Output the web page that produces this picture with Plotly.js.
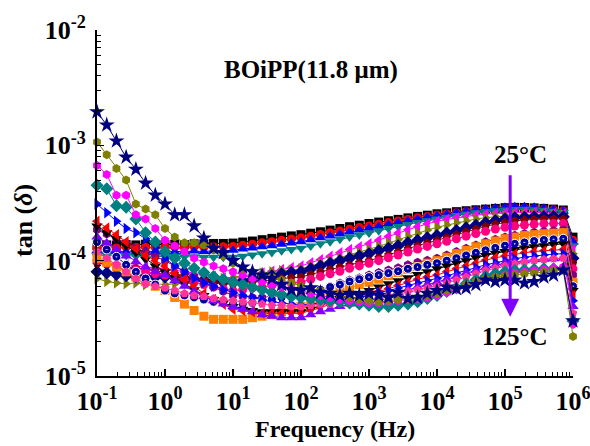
<!DOCTYPE html>
<html>
<head>
<meta charset="utf-8">
<script src="https://cdn.plot.ly/plotly-3.0.1.min.js"></script>
<style>html,body{margin:0;padding:0;background:#fff;}#chart{width:590px;height:446px;}</style>
</head>
<body>
<div id="chart"></div>
<script>
// Frequency (Hz), 7 points per decade
const freqHz = [0.1,0.139,0.193,0.268,0.373,0.518,0.72,
  1,1.39,1.93,2.68,3.73,5.18,7.2,
  10,13.9,19.3,26.8,37.3,51.8,72,
  100,139,193,268,373,518,720,
  1e3,1390,1930,2680,3730,5180,7200,
  1e4,13900,19300,26800,37300,51800,72000,
  1e5,139000,193000,268000,373000,518000,720000,
  1e6];

// tan(delta) in units of 1e-4, one array per temperature
const t25 = [1.35,1.37,1.36,1.38,1.37,1.39,1.38, 1.38,1.39,1.38,1.40,1.40,1.41,1.41, 1.42,1.45,1.48,1.52,1.56,1.60,1.64, 1.68,1.73,1.78,1.84,1.90,1.97,2.03, 2.10,2.16,2.22,2.28,2.35,2.42,2.48, 2.55,2.60,2.66,2.71,2.76,2.80,2.84, 2.88,2.90,2.89,2.87,2.84,2.80,2.75, 1.60];
const t30 = [1.28,1.30,1.29,1.31,1.30,1.31,1.30, 1.30,1.31,1.30,1.32,1.31,1.32,1.32, 1.33,1.36,1.39,1.43,1.46,1.50,1.54, 1.58,1.63,1.69,1.75,1.81,1.87,1.94, 2.00,2.07,2.14,2.21,2.28,2.35,2.41, 2.48,2.54,2.60,2.66,2.71,2.75,2.79, 2.83,2.86,2.86,2.84,2.80,2.76,2.70, 1.50];
const t35 = [1.22,1.20,1.21,1.19,1.20,1.21,1.20, 1.20,1.19,1.20,1.21,1.20,1.22,1.22, 1.23,1.26,1.29,1.32,1.35,1.39,1.42, 1.46,1.52,1.58,1.64,1.70,1.77,1.84, 1.91,1.98,2.06,2.14,2.22,2.30,2.38, 2.45,2.53,2.61,2.68,2.75,2.81,2.86, 2.90,2.93,2.93,2.90,2.85,2.78,2.70, 1.45];
const t40 = [1.10,1.12,1.10,1.11,1.09,1.10,1.09, 1.08,1.09,1.08,1.08,1.07,1.07,1.07, 1.07,1.09,1.12,1.15,1.18,1.22,1.25, 1.28,1.34,1.40,1.46,1.53,1.60,1.67, 1.74,1.82,1.90,1.98,2.06,2.14,2.22, 2.30,2.38,2.46,2.53,2.60,2.66,2.71, 2.75,2.78,2.79,2.77,2.73,2.68,2.62, 1.35];
const t45 = [0.95,0.94,0.93,0.92,0.90,0.88,0.87, 0.85,0.83,0.80,0.78,0.75,0.73,0.71, 0.70,0.72,0.75,0.78,0.81,0.84,0.87, 0.90,0.96,1.02,1.09,1.17,1.25,1.32, 1.40,1.50,1.62,1.74,1.85,1.97,2.09, 2.20,2.28,2.35,2.42,2.48,2.53,2.57, 2.60,2.62,2.63,2.62,2.60,2.58,2.55, 1.25];
const t50 = [0.70,0.66,0.64,0.63,0.64,0.62,0.63, 0.62,0.63,0.64,0.66,0.67,0.69,0.70, 0.72,0.74,0.76,0.78,0.80,0.82,0.83, 0.85,0.90,0.95,1.00,1.06,1.12,1.18, 1.25,1.33,1.42,1.52,1.62,1.73,1.84, 1.95,2.04,2.13,2.22,2.30,2.36,2.41, 2.45,2.48,2.50,2.51,2.51,2.50,2.50, 1.15];
const t55 = [0.80,0.78,0.76,0.74,0.72,0.73,0.72, 0.72,0.71,0.70,0.69,0.68,0.66,0.65, 0.65,0.67,0.69,0.72,0.74,0.77,0.79, 0.80,0.85,0.90,0.95,1.00,1.05,1.10, 1.15,1.22,1.28,1.35,1.43,1.50,1.58, 1.65,1.74,1.83,1.93,2.03,2.13,2.22, 2.30,2.35,2.38,2.40,2.41,2.41,2.40, 1.05];
const t60 = [0.95,0.93,0.91,0.88,0.86,0.84,0.82, 0.80,0.77,0.74,0.71,0.68,0.66,0.64, 0.62,0.63,0.65,0.66,0.68,0.70,0.71, 0.72,0.76,0.80,0.84,0.88,0.92,0.96, 1.00,1.06,1.12,1.19,1.27,1.35,1.42, 1.50,1.59,1.68,1.78,1.88,1.98,2.07, 2.15,2.21,2.25,2.28,2.30,2.30,2.30, 0.95];
const t65 = [1.00,0.95,0.91,0.87,0.83,0.80,0.77, 0.75,0.71,0.68,0.65,0.62,0.59,0.57, 0.55,0.56,0.58,0.59,0.61,0.62,0.64, 0.65,0.69,0.73,0.77,0.81,0.86,0.90, 0.95,1.00,1.06,1.12,1.19,1.26,1.33, 1.40,1.47,1.55,1.63,1.72,1.80,1.88, 1.95,2.00,2.04,2.07,2.09,2.10,2.10, 0.85];
const t70 = [1.85,1.70,1.55,1.42,1.30,1.18,1.08, 1.00,0.90,0.81,0.73,0.65,0.59,0.54, 0.50,0.49,0.48,0.48,0.49,0.49,0.50, 0.50,0.53,0.56,0.60,0.64,0.68,0.71, 0.75,0.79,0.83,0.87,0.92,0.97,1.01, 1.05,1.12,1.20,1.28,1.37,1.46,1.53, 1.60,1.66,1.72,1.76,1.80,1.83,1.85, 0.75];
const t75 = [1.05,0.97,0.88,0.80,0.72,0.66,0.60, 0.55,0.48,0.42,0.37,0.33,0.31,0.31, 0.31,0.31,0.32,0.33,0.34,0.36,0.38, 0.40,0.43,0.47,0.51,0.55,0.58,0.62, 0.65,0.69,0.74,0.79,0.84,0.89,0.95, 1.00,1.07,1.15,1.23,1.32,1.40,1.48, 1.55,1.60,1.65,1.68,1.71,1.73,1.75, 0.65];
const t80 = [1.45,1.25,1.08,0.92,0.80,0.70,0.62, 0.55,0.52,0.50,0.48,0.46,0.44,0.43, 0.42,0.42,0.43,0.44,0.46,0.48,0.49, 0.50,0.53,0.56,0.59,0.62,0.66,0.69, 0.72,0.75,0.78,0.81,0.85,0.88,0.92, 0.95,1.00,1.05,1.11,1.17,1.23,1.29, 1.35,1.40,1.44,1.48,1.51,1.53,1.55, 0.60];
const t85 = [2.00,1.75,1.55,1.35,1.18,1.03,0.90, 0.80,0.71,0.63,0.56,0.50,0.46,0.43, 0.40,0.38,0.37,0.36,0.36,0.36,0.36, 0.36,0.38,0.41,0.44,0.47,0.50,0.52, 0.55,0.59,0.63,0.67,0.71,0.76,0.80, 0.85,0.90,0.95,1.00,1.06,1.11,1.16, 1.20,1.25,1.29,1.32,1.35,1.38,1.40, 0.55];
const t90 = [2.20,1.92,1.68,1.46,1.27,1.11,1.00, 0.90,0.78,0.68,0.60,0.52,0.46,0.42, 0.38,0.37,0.36,0.35,0.35,0.35,0.35, 0.35,0.37,0.39,0.42,0.44,0.47,0.48, 0.50,0.54,0.57,0.61,0.65,0.69,0.72, 0.75,0.80,0.85,0.90,0.95,1.01,1.06, 1.10,1.14,1.17,1.20,1.22,1.24,1.25, 0.50];
const t95 = [3.10,2.60,2.20,1.90,1.75,1.55,1.30, 1.05,0.90,0.80,0.70,0.64,0.60,0.56, 0.53,0.50,0.48,0.46,0.44,0.43,0.42, 0.41,0.42,0.43,0.44,0.46,0.47,0.48, 0.50,0.53,0.55,0.58,0.61,0.64,0.67, 0.70,0.74,0.78,0.83,0.87,0.92,0.96, 1.00,1.04,1.07,1.10,1.12,1.14,1.15, 0.45];
const t100 = [1.60,1.42,1.25,1.10,0.98,0.88,0.80, 0.75,0.67,0.60,0.54,0.49,0.45,0.42, 0.40,0.38,0.36,0.34,0.33,0.32,0.32, 0.32,0.34,0.36,0.38,0.40,0.42,0.43, 0.45,0.48,0.50,0.53,0.56,0.59,0.62, 0.65,0.69,0.73,0.78,0.82,0.87,0.91, 0.95,0.98,1.00,1.02,1.03,1.04,1.05, 0.40];
const t105 = [1.20,1.05,0.92,0.80,0.70,0.63,0.60, 0.58,0.55,0.52,0.50,0.49,0.47,0.46, 0.45,0.44,0.43,0.42,0.41,0.41,0.40, 0.40,0.41,0.42,0.42,0.43,0.44,0.44, 0.45,0.47,0.49,0.51,0.54,0.56,0.58, 0.60,0.64,0.68,0.72,0.77,0.82,0.86, 0.90,0.94,0.97,1.00,1.02,1.04,1.05, 0.35];
const t110 = [4.50,4.20,3.00,2.90,2.30,1.75,1.45, 1.20,1.05,0.95,0.86,0.79,0.73,0.69, 0.65,0.62,0.59,0.56,0.53,0.51,0.49, 0.48,0.47,0.46,0.45,0.44,0.43,0.42, 0.41,0.40,0.40,0.41,0.42,0.44,0.47, 0.50,0.54,0.58,0.63,0.68,0.73,0.77, 0.80,0.82,0.83,0.84,0.85,0.85,0.85, 0.30];
const t115 = [6.70,5.60,3.70,3.70,2.50,2.30,1.90, 1.50,1.35,1.20,1.05,0.97,0.90,0.85, 0.80,0.75,0.70,0.66,0.62,0.59,0.57, 0.55,0.52,0.50,0.48,0.46,0.45,0.44, 0.43,0.43,0.44,0.45,0.46,0.47,0.48, 0.50,0.53,0.57,0.61,0.65,0.69,0.72, 0.75,0.78,0.80,0.82,0.84,0.86,0.88, 0.28];
const t120 = [10.7,8.30,6.30,5.00,3.10,2.80,2.50, 1.90,1.60,1.43,1.43,1.37,1.24,1.10, 0.95,0.85,0.80,0.75,0.72,0.68,0.64, 0.60,0.57,0.55,0.52,0.50,0.48,0.46, 0.45,0.44,0.45,0.46,0.47,0.48,0.50, 0.52,0.55,0.58,0.62,0.66,0.70,0.72, 0.74,0.76,0.77,0.78,0.80,0.82,0.83, 0.22];
const t125 = [19.5,15.0,10.9,7.90,6.20,4.70,3.70, 3.10,2.50,2.50,2.00,1.57,1.28,1.17, 1.00,0.88,0.80,0.75,0.70,0.62,0.56, 0.55,0.58,0.53,0.52,0.50,0.52,0.50, 0.52,0.50,0.48,0.53,0.47,0.48,0.52, 0.55,0.59,0.57,0.58,0.62,0.68,0.66, 0.68,0.68,0.64,0.66,0.72,0.75,0.83, 0.30];

const temps = [25,30,35,40,45,50,55,60,65,70,75,80,85,90,95,100,105,110,115,120,125];
const seriesVals = [t25,t30,t35,t40,t45,t50,t55,t60,t65,t70,t75,t80,t85,t90,t95,t100,t105,t110,t115,t120,t125];
const colors = ['#000000','#ff0000','#0000ff','#008080','#ff00ff','#808000','#000080','#800000','#ff0080','#800080','#ff8000','#0000a0','#000000','#ff0000','#0000ff','#8000ff','#ff3399','#008080','#ff00ff','#808000','#000080'];
const symbols = ['square','circle','triangle-up','triangle-down','triangle-left','triangle-right','diamond','pentagon','circle','hexagon','square','circle-dot','triangle-down','triangle-left','triangle-right','triangle-up','pentagon','diamond','hexagon','hexagon','star'];

const xTickVals = [0.1,1,10,100,1e3,1e4,1e5,1e6];
const xTickText = ['10<sup>-1</sup>','10<sup>0</sup>','10<sup>1</sup>','10<sup>2</sup>','10<sup>3</sup>','10<sup>4</sup>','10<sup>5</sup>','10<sup>6</sup>'];
const yTickVals = [1e-5,1e-4,1e-3,1e-2];
const yTickText = ['10<sup>-5</sup>','10<sup>-4</sup>','10<sup>-3</sup>','10<sup>-2</sup>'];

function markerSize(s) {
  if (s === 'star') return 12;
  if (s.indexOf('triangle') === 0) return 10;
  if (s === 'diamond') return 10;
  return 9;
}

const traces = seriesVals.map((vals, k) => ({
  type: 'scatter',
  mode: 'lines+markers',
  name: temps[k] + '°C',
  x: freqHz,
  y: vals.map(v => v * 1e-4),
  line: {color: colors[k], width: 1},
  marker: {
    symbol: symbols[k],
    color: colors[k],
    size: markerSize(symbols[k]),
    line: {width: symbols[k] === 'circle-dot' ? 1 : 0, color: '#ffffff'}
  },
  cliponaxis: false,
  hoverinfo: 'skip'
}));

const fam = 'Liberation Serif';
const black = '#000';

const layout = {
  width: 590, height: 446,
  margin: {l: 97, r: 17, t: 30, b: 70, pad: 0},
  paper_bgcolor: '#fff', plot_bgcolor: '#fff',
  showlegend: false,
  font: {family: fam, color: black},
  xaxis: {
    type: 'log', range: [-1, 6],
    tickvals: xTickVals, ticktext: xTickText,
    tickfont: {family: fam, size: 26, weight: 'bold', color: black},
    ticks: 'inside', ticklen: 7, tickwidth: 1.5, tickcolor: black,
    ticklabelstandoff: 1, ticklabeloverflow: 'allow',
    showline: true, linewidth: 2, linecolor: black, mirror: false,
    showgrid: false, zeroline: false, automargin: false,
    minor: {ticks: 'inside', ticklen: 4, tickwidth: 1, tickcolor: black, dtick: 'D1', showgrid: false}
  },
  yaxis: {
    type: 'log', range: [-5, -2],
    tickvals: yTickVals, ticktext: yTickText,
    tickfont: {family: fam, size: 26, weight: 'bold', color: black},
    ticks: 'inside', ticklen: 7, tickwidth: 1.5, tickcolor: black,
    ticklabelstandoff: 4, ticklabeloverflow: 'allow',
    showline: true, linewidth: 2, linecolor: black, mirror: false,
    showgrid: false, zeroline: false, automargin: false,
    minor: {ticks: 'inside', ticklen: 4, tickwidth: 1, tickcolor: black, dtick: 'D1', showgrid: false}
  },
  xaxis2: {
    overlaying: 'x', side: 'top', anchor: 'y', range: [0, 10], dtick: 1,
    ticks: 'inside', ticklen: 5, tickwidth: 1.5, tickcolor: black,
    showline: true, linewidth: 2, linecolor: black,
    showticklabels: false, showgrid: false, zeroline: false, fixedrange: true
  },
  yaxis2: {
    overlaying: 'y', side: 'right', anchor: 'x', range: [0, 10], dtick: 1,
    ticks: 'inside', ticklen: 5, tickwidth: 1.5, tickcolor: black,
    showline: true, linewidth: 2, linecolor: black,
    showticklabels: false, showgrid: false, zeroline: false, fixedrange: true
  },
  annotations: [
    {xref: 'paper', yref: 'paper', x: 0.5, y: -0.152, text: 'Frequency (Hz)', showarrow: false,
     font: {family: fam, size: 24, weight: 'bold', color: black}, xanchor: 'center', yanchor: 'middle'},
    {xref: 'paper', yref: 'paper', x: -0.154, y: 0.45, text: 'tan (<i>δ</i>)', textangle: -90, showarrow: false,
     font: {family: fam, size: 26, weight: 'bold', color: black}, xanchor: 'center', yanchor: 'middle'},
    {xref: 'paper', yref: 'paper', x: 0.45, y: 0.884, text: 'BOiPP(11.8 μm)', showarrow: false,
     font: {family: fam, size: 25, weight: 'bold', color: black}, xanchor: 'center', yanchor: 'middle'},
    {xref: 'paper', yref: 'paper', x: 0.889, y: 0.639, text: '25°C', showarrow: false,
     font: {family: fam, size: 25, weight: 'bold', color: black}, xanchor: 'center', yanchor: 'middle'},
    {xref: 'paper', yref: 'paper', x: 0.878, y: 0.113, text: '125°C', showarrow: false,
     font: {family: fam, size: 25, weight: 'bold', color: black}, xanchor: 'center', yanchor: 'middle'},
    {xref: 'paper', yref: 'paper', x: 0.868, y: 0.171, text: '', showarrow: true,
     ax: 0, ay: -143, arrowhead: 2, arrowsize: 1.2, arrowwidth: 3, arrowcolor: '#8000ff', standoff: 0, startstandoff: 0}
  ]
};

Plotly.newPlot('chart', traces, layout, {staticPlot: true, displayModeBar: false});
</script>
</body>
</html>
